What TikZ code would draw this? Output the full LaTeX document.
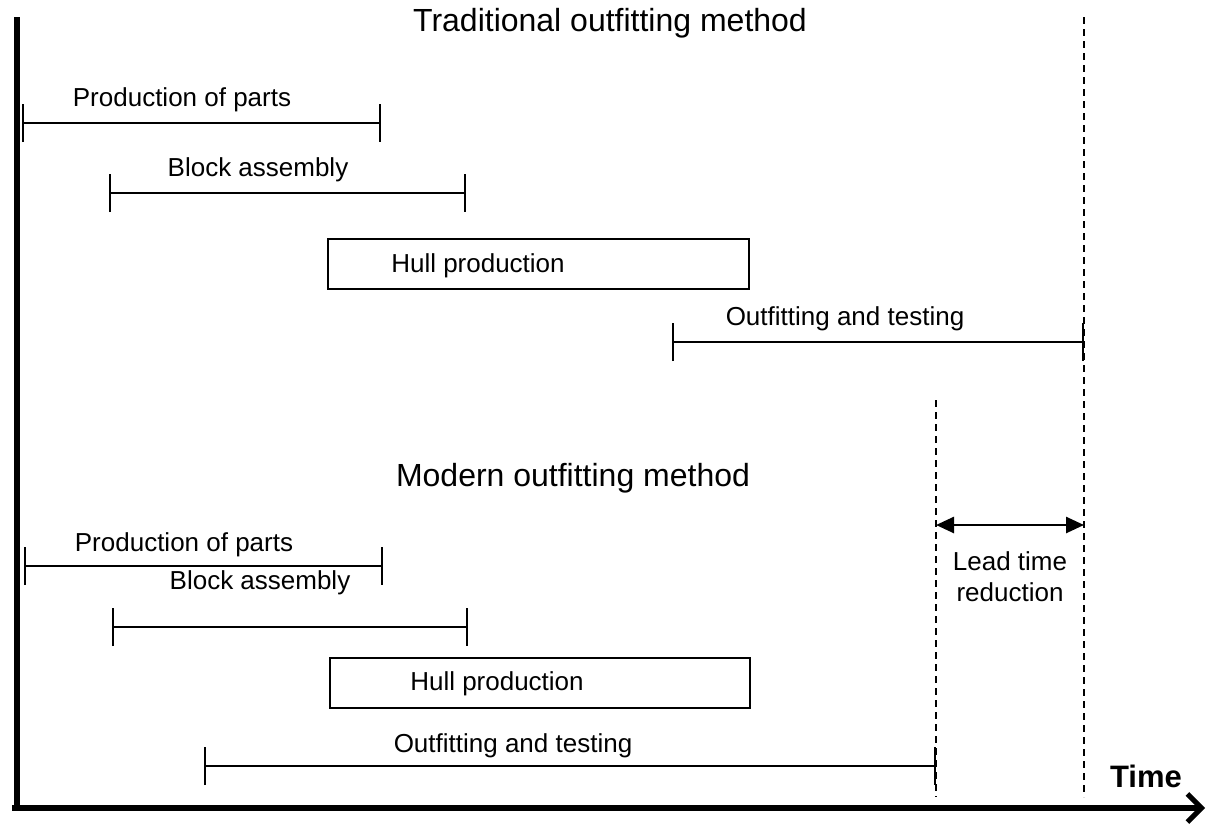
\documentclass[tikz,border=0pt]{standalone}
\usepackage{fontspec}
\setmainfont{Liberation Sans}
\usetikzlibrary{arrows.meta}
\begin{document}
\begin{tikzpicture}[x=1pt,y=-1pt,
  label/.style={inner sep=0pt,font=\fontsize{26}{31}\selectfont},
  title/.style={inner sep=0pt,font=\fontsize{32}{38}\selectfont},
  bar/.style={line width=2.4pt,{Bar[width=38pt,line width=2.4pt]}-{Bar[width=38pt,line width=2.4pt]}},
  phase/.style={draw,line width=2.8pt,minimum height=50pt,inner sep=0pt},
  axis/.style={line width=5.5pt},
  guide/.style={line width=1.6pt,dash pattern=on 7pt off 5pt},
  span/.style={line width=2.6pt,{Triangle[length=18pt,width=16pt]}-{Triangle[length=18pt,width=16pt]}}]
\useasboundingbox (0,0) rectangle (1210,825);

% axes
\coordinate (origin) at (17,808);
\coordinate (ytop) at (17,17);
\coordinate (xend) at (1205,808);
\coordinate (xstart) at (12,808);
\draw[axis] (origin) -- (ytop);
\draw[axis,-{Straight Barb[length=14pt,width=28pt,line width=5pt]}] (xstart) -- (xend);
\node[inner sep=0pt,font=\fontsize{31}{36}\selectfont\bfseries] (time) at (1146,776) {Time};

% completion markers
\coordinate (tradEndTop) at (1084,17);
\coordinate (tradEndBot) at (1084,797);
\coordinate (modEndTop) at (936,400);
\coordinate (modEndBot) at (936,797);
\draw[guide] (tradEndTop) -- (tradEndBot);
\draw[guide] (modEndTop) -- (modEndBot);

% traditional method
\node[title] (tradTitle) at (610,23) {Traditional outfitting method};
\coordinate (tp1) at (22,123); \coordinate (tp2) at (381,123);
\draw[bar] (tp1) -- (tp2);
\node[label] (tpL) at (182,100) {Production of parts};
\coordinate (tb1) at (109,193); \coordinate (tb2) at (466,193);
\draw[bar] (tb1) -- (tb2);
\node[label] (tbL) at (258,170) {Block assembly};
\node[phase,minimum width=421pt] (thull) at (538.5,264) {};
\node[label] (thL) at (478,266) {Hull production};
\coordinate (to1) at (672,342); \coordinate (to2) at (1084,342);
\draw[bar] (to1) -- (to2);
\node[label] (toL) at (845,319) {Outfitting and testing};

% modern method
\node[title] (modTitle) at (573,478) {Modern outfitting method};
\coordinate (mp1) at (24,566); \coordinate (mp2) at (383,566);
\draw[bar] (mp1) -- (mp2);
\node[label] (mpL) at (184,545) {Production of parts};
\coordinate (mb1) at (112,627); \coordinate (mb2) at (468,627);
\draw[bar] (mb1) -- (mb2);
\node[label] (mbL) at (260,583) {Block assembly};
\node[phase,minimum width=420pt] (mhull) at (540,683) {};
\node[label] (mhL) at (497,684) {Hull production};
\coordinate (mo1) at (204,766); \coordinate (mo2) at (936,766);
\draw[bar] (mo1) -- (mo2);
\node[label] (moL) at (513,746) {Outfitting and testing};

% lead time reduction
\coordinate (lt1) at (936,525); \coordinate (lt2) at (1084,525);
\draw[span] (lt1) -- (lt2);
\node[label,align=center] (ltL) at (1010,577) {Lead time\\reduction};
\end{tikzpicture}
\end{document}
